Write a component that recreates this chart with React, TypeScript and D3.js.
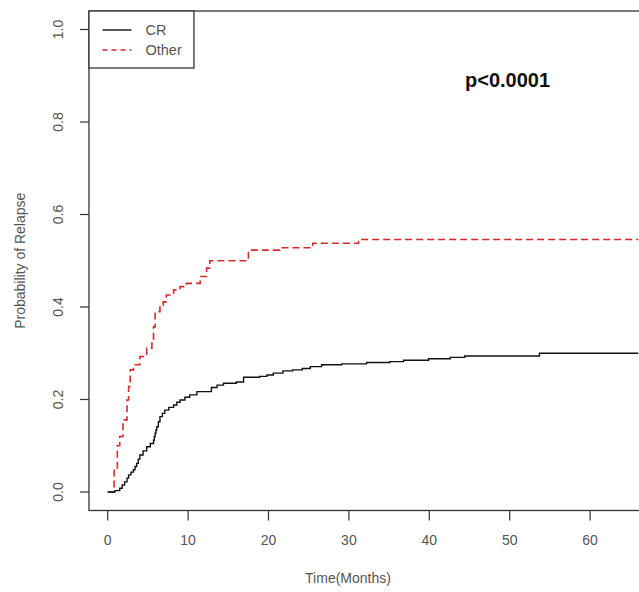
import React from "react";
import * as d3 from "d3";

const crTimes = [0, 0.3, 0.9, 1.5, 1.8, 2.1, 2.4, 2.6, 2.9, 3.2, 3.4, 3.6, 3.8, 4.0, 4.4, 4.85, 5.3, 5.7, 5.8, 5.9, 6.0, 6.1, 6.3, 6.5, 6.8, 7.1, 7.6, 8.2, 8.6, 9.0, 9.6, 10.2, 11.1, 12.3, 12.9, 13.6, 14.4, 16.0, 16.9, 18.9, 19.8, 20.6, 21.8, 23.0, 24.2, 25.2, 26.6, 29.1, 32.2, 35.1, 36.8, 39.9, 42.6, 44.4, 53.7, 66];
const crProbs = [0, 0, 0.003, 0.008, 0.015, 0.022, 0.03, 0.037, 0.043, 0.048, 0.055, 0.062, 0.071, 0.08, 0.089, 0.098, 0.105, 0.112, 0.12, 0.127, 0.134, 0.141, 0.152, 0.163, 0.17, 0.177, 0.183, 0.188, 0.194, 0.199, 0.205, 0.21, 0.217, 0.217, 0.226, 0.231, 0.235, 0.238, 0.248, 0.25, 0.253, 0.257, 0.262, 0.264, 0.267, 0.271, 0.275, 0.277, 0.28, 0.282, 0.285, 0.288, 0.291, 0.294, 0.3, 0.3];

const otherTimes = [0, 0.3, 0.8, 1.2, 1.5, 1.9, 2.4, 2.6, 2.8, 3.2, 4.0, 4.85, 5.5, 5.7, 5.9, 6.5, 6.9, 7.3, 8.2, 9.0, 9.8, 11.5, 12.3, 12.7, 17.5, 21.4, 25.5, 31.2, 66];
const otherProbs = [0, 0, 0.05, 0.1, 0.12, 0.156, 0.199, 0.228, 0.264, 0.275, 0.293, 0.311, 0.322, 0.357, 0.39, 0.404, 0.411, 0.426, 0.437, 0.444, 0.451, 0.466, 0.484, 0.5, 0.523, 0.528, 0.538, 0.546, 0.546];

const xTicks = [0, 10, 20, 30, 40, 50, 60];
const yTicks = [0, 0.2, 0.4, 0.6, 0.8, 1.0];

const legendLabels = ["CR", "Other"];
const pValueText = "p<0.0001";

export default function App() {
  const W = 639;
  const H = 592;
  const x = d3.scaleLinear().domain([0, 60]).range([107.7, 590.1]);
  const y = d3.scaleLinear().domain([0, 1]).range([492, 29.5]);
  const boxLeft = x(-2.33);
  const boxTop = y(1.04);
  const boxBottom = y(-0.04);
  const boxRight = 700;

  const line = d3
    .line<[number, number]>()
    .x((d) => x(d[0]))
    .y((d) => y(d[1]))
    .curve(d3.curveStepAfter);

  const crData: [number, number][] = crTimes.map((t, i) => [t, crProbs[i]]);
  const otherData: [number, number][] = otherTimes.map((t, i) => [t, otherProbs[i]]);

  const axisColor = "#333";
  const textColor = "#555";
  const red = "#d42a2a";
  const font = "Liberation Sans, Arial, sans-serif";

  return (
    <svg
      width={W}
      height={H}
      style={{ position: "absolute", left: 0, top: 0, background: "#fff" }}
      fontFamily={font}
    >
      <defs>
        <clipPath id="plotclip">
          <rect x={boxLeft} y={boxTop} width={boxRight - boxLeft} height={boxBottom - boxTop} />
        </clipPath>
      </defs>
      <g clipPath="url(#plotclip)">
        <path d={line(otherData) || ""} fill="none" stroke={red} strokeWidth={1.6} strokeDasharray="7,4" />
        <path d={line(crData) || ""} fill="none" stroke="#111" strokeWidth={1.4} />
      </g>
      <rect
        x={boxLeft}
        y={boxTop}
        width={boxRight - boxLeft}
        height={boxBottom - boxTop}
        fill="none"
        stroke={axisColor}
        strokeWidth={1.3}
      />
      {xTicks.map((t) => (
        <g key={"x" + t}>
          <line x1={x(t)} x2={x(t)} y1={boxBottom} y2={boxBottom + 10} stroke={axisColor} strokeWidth={1.2} />
          <text x={x(t)} y={545} textAnchor="middle" fontSize={14} fill={textColor}>
            {t}
          </text>
        </g>
      ))}
      <text x={348} y={583} textAnchor="middle" fontSize={14} fill={textColor}>
        Time(Months)
      </text>
      {yTicks.map((t) => (
        <g key={"y" + t}>
          <line x1={boxLeft - 9} x2={boxLeft} y1={y(t)} y2={y(t)} stroke={axisColor} strokeWidth={1.2} />
          <text
            transform={`translate(63,${y(t)}) rotate(-90)`}
            textAnchor="middle"
            fontSize={14}
            fill={textColor}
          >
            {t.toFixed(1)}
          </text>
        </g>
      ))}
      <text
        transform={`translate(25,${(boxTop + boxBottom) / 2}) rotate(-90)`}
        textAnchor="middle"
        fontSize={14}
        fill={textColor}
      >
        Probability of Relapse
      </text>
      <rect x={boxLeft} y={boxTop} width={105} height={57} fill="#fff" stroke={axisColor} strokeWidth={1.3} />
      <line x1={102.5} x2={131.5} y1={30} y2={30} stroke="#111" strokeWidth={1.4} />
      <line x1={102.5} x2={131.5} y1={50} y2={50} stroke={red} strokeWidth={1.4} strokeDasharray="5,4" />
      <text x={145.5} y={35} fontSize={14.5} fill={textColor}>
        {legendLabels[0]}
      </text>
      <text x={145.5} y={55} fontSize={14.5} fill={textColor}>
        {legendLabels[1]}
      </text>
      <text x={465} y={87} fontSize={20} fontWeight="bold" fill="#111">
        {pValueText}
      </text>
    </svg>
  );
}
